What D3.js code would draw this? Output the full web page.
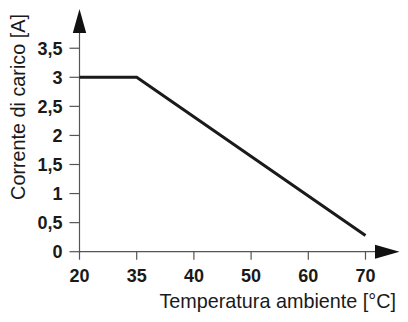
<!DOCTYPE html>
<html>
<head>
<meta charset="utf-8">
<script src="https://cdn.jsdelivr.net/npm/d3@7"></script>
<style>
  html, body { margin: 0; padding: 0; background: #fff; }
  svg { display: block; }
  text { font-family: "Liberation Sans", Arial, sans-serif; fill: #1a1a1a; }
</style>
</head>
<body>
<svg id="chart" width="408" height="322"></svg>
<script>
// Derating curve: load current vs ambient temperature
const xTicks = [20, 35, 40, 50, 60, 70];
const yTicks = [0, 0.5, 1, 1.5, 2, 2.5, 3, 3.5];
const yTickLabels = ["0", "0,5", "1", "1,5", "2", "2,5", "3", "3,5"];
const temperature = [20, 35, 70];
const current = [3, 3, 0.28];
const xTitle = "Temperatura ambiente [°C]";
const yTitle = "Corrente di carico [A]";

const svg = d3.select("#chart");
const x0 = 79.5, y0 = 251.7;

// Axis ticks are evenly spaced, so the x scale is piecewise linear over the tick values
const x = d3.scaleLinear()
  .domain(xTicks)
  .range(xTicks.map((d, i) => x0 + i * 57.2));
const y = d3.scaleLinear().domain([0, 3]).range([y0, 77.3]);

const axisColor = "#555";

// Axis lines
svg.append("line").attr("x1", x0).attr("x2", 380).attr("y1", y0).attr("y2", y0)
  .attr("stroke", axisColor).attr("stroke-width", 1.2);
svg.append("line").attr("x1", x0).attr("x2", x0).attr("y1", y0 + 1).attr("y2", 30)
  .attr("stroke", axisColor).attr("stroke-width", 1.2);

// Arrowheads
svg.append("path")
  .attr("d", `M${x0 - 6.7},33 L${x0},9 L${x0 + 6.7},33 Z`)
  .attr("fill", "#111");
svg.append("path")
  .attr("d", `M375,${y0 - 7} L399.5,${y0} L375,${y0 + 7} Z`)
  .attr("fill", "#111");

// X ticks and labels
const gx = svg.append("g");
gx.selectAll("line").data(xTicks).join("line")
  .attr("x1", d => x(d)).attr("x2", d => x(d))
  .attr("y1", y0).attr("y2", y0 + 8)
  .attr("stroke", axisColor).attr("stroke-width", 1.2);
gx.selectAll("text").data(xTicks).join("text")
  .attr("x", d => x(d)).attr("y", 281.5)
  .attr("text-anchor", "middle")
  .attr("font-size", 18).attr("font-weight", "bold")
  .text(d => d);

// Y ticks and labels
const gy = svg.append("g");
gy.selectAll("line").data(yTicks).join("line")
  .attr("x1", x0 - 10).attr("x2", x0)
  .attr("y1", d => y(d)).attr("y2", d => y(d))
  .attr("stroke", axisColor).attr("stroke-width", 1.2);
gy.selectAll("text").data(yTicks).join("text")
  .attr("x", 62.5).attr("y", d => y(d))
  .attr("dy", "0.36em")
  .attr("text-anchor", "end")
  .attr("font-size", 18).attr("font-weight", "bold")
  .text((d, i) => yTickLabels[i]);

// Axis titles
svg.append("text")
  .attr("x", 396).attr("y", 308.3)
  .attr("text-anchor", "end")
  .attr("font-size", 19.8)
  .text(xTitle);
svg.append("text")
  .attr("transform", "translate(24.5,107) rotate(-90)")
  .attr("text-anchor", "middle")
  .attr("font-size", 19.8)
  .text(yTitle);

// Curve
const pts = temperature.map((t, i) => [t, current[i]]);
svg.append("path")
  .datum(pts)
  .attr("d", d3.line().x(d => x(d[0])).y(d => y(d[1])))
  .attr("fill", "none")
  .attr("stroke", "#1a1a1a")
  .attr("stroke-width", 3);
</script>
</body>
</html>
